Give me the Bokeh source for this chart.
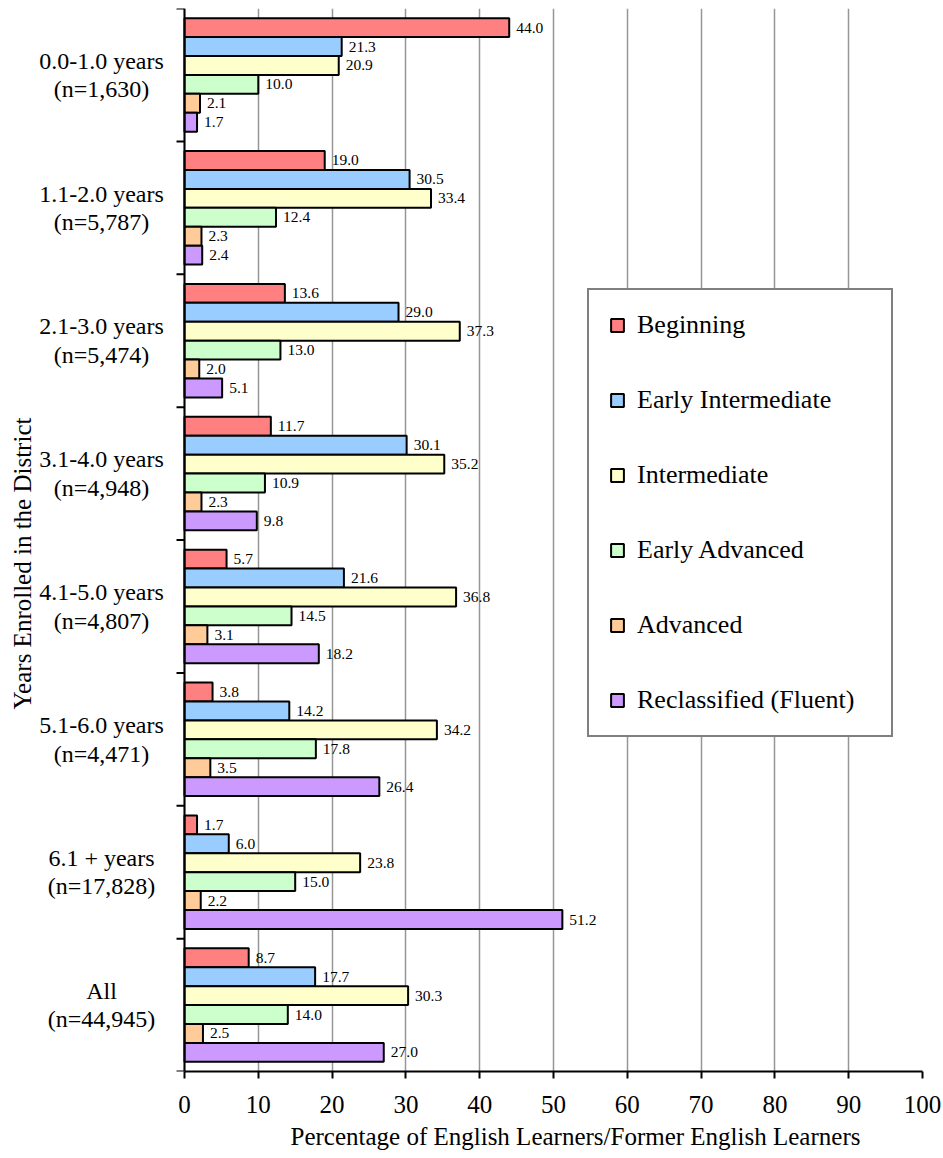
import math
from bokeh.plotting import figure
from bokeh.models import Range1d, FixedTicker, Span, ColumnDataSource, Title
from bokeh.core.properties import value
from bokeh.embed import file_html
from bokeh.resources import INLINE

# ---------------- data ----------------
groups = ["0.0-1.0 years", "1.1-2.0 years", "2.1-3.0 years", "3.1-4.0 years",
          "4.1-5.0 years", "5.1-6.0 years", "6.1 + years", "All"]
counts = ["(n=1,630)", "(n=5,787)", "(n=5,474)", "(n=4,948)",
          "(n=4,807)", "(n=4,471)", "(n=17,828)", "(n=44,945)"]
series_names = ["Beginning", "Early Intermediate", "Intermediate",
                "Early Advanced", "Advanced", "Reclassified (Fluent)"]
beginning = [44.0, 19.0, 13.6, 11.7, 5.7, 3.8, 1.7, 8.7]
early_intermediate = [21.3, 30.5, 29.0, 30.1, 21.6, 14.2, 6.0, 17.7]
intermediate = [20.9, 33.4, 37.3, 35.2, 36.8, 34.2, 23.8, 30.3]
early_advanced = [10.0, 12.4, 13.0, 10.9, 14.5, 17.8, 15.0, 14.0]
advanced = [2.1, 2.3, 2.0, 2.3, 3.1, 3.5, 2.2, 2.5]
reclassified = [1.7, 2.4, 5.1, 9.8, 18.2, 26.4, 51.2, 27.0]
x_ticks = [0, 10, 20, 30, 40, 50, 60, 70, 80, 90, 100]

series_values = [beginning, early_intermediate, intermediate,
                 early_advanced, advanced, reclassified]
colors = ["#FF8080", "#99CCFF", "#FFFFCC", "#CCFFCC", "#FFCC99", "#CC99FF"]

FONT = "Liberation Serif"
n_groups = len(groups)
bar_h = 0.1425

# layout (pixels)
W, H = 943, 1158
AXIS_PX = 184          # where x=0 sits, from the left of the frame
RIGHT_PAD = 21
TOP_PAD, BOTTOM_PAD = 8, 87
frame_w = W - RIGHT_PAD
frame_h = H - TOP_PAD - BOTTOM_PAD
px_per_unit = (frame_w - AXIS_PX) / 100.0
px_per_group = frame_h / n_groups


def px_to_x(px):
    return (px - AXIS_PX) / px_per_unit


def px_to_y(py):
    return n_groups - (py - TOP_PAD) / px_per_group


p = figure(width=W, height=H,
           x_range=Range1d(px_to_x(0), 100), y_range=Range1d(0, n_groups),
           output_backend="svg", toolbar_location=None,
           min_border_left=0, min_border_right=RIGHT_PAD,
           min_border_top=TOP_PAD, min_border_bottom=BOTTOM_PAD)
p.outline_line_color = None
p.background_fill_color = "white"
p.border_fill_color = "white"
p.yaxis.visible = False
p.ygrid.grid_line_color = None

p.xgrid.ticker = FixedTicker(ticks=x_ticks)
p.xgrid.grid_line_color = "#969696"
p.xgrid.grid_line_width = 1.5

for j, (name, vals, col) in enumerate(zip(series_names, series_values, colors)):
    ys = [(n_groups - 1 - gi) + 0.5 + (2.5 - j) * bar_h for gi in range(n_groups)]
    src = ColumnDataSource(dict(y=ys, v=vals, lbl=[f"{v:.1f}" for v in vals]))
    p.hbar(y="y", left=0, right="v", height=bar_h, source=src,
           fill_color=col, line_color="black", line_width=2, legend_label=name)
    p.text(x="v", y="y", text="lbl", source=src, x_offset=7,
           text_baseline="middle", text_align="left",
           text_font=value(FONT), text_font_size="15.5px", text_color="black")

# value axis (bottom)
p.xaxis.ticker = FixedTicker(ticks=x_ticks)
p.xaxis.bounds = (0, 100)
p.xaxis.axis_line_color = "black"
p.xaxis.axis_line_width = 2
p.xaxis.major_tick_line_color = "black"
p.xaxis.major_tick_line_width = 2
p.xaxis.major_tick_out = 7
p.xaxis.major_tick_in = 0
p.xaxis.minor_tick_line_color = None
p.xaxis.major_label_text_font = FONT
p.xaxis.major_label_text_font_size = "25px"
p.xaxis.major_label_text_color = "black"
p.xaxis.major_label_standoff = 17

# value axis title
p.add_layout(Title(text="Percentage of English Learners/Former English Learners",
                   align="left", offset=290, standoff=11,
                   text_font=FONT, text_font_size="25px", text_font_style="normal",
                   text_color="black"), "below")

# category axis (left): line at x=0 and outward ticks at group boundaries
p.add_layout(Span(location=0, dimension="height", line_color="black", line_width=2))
boundaries = list(range(n_groups + 1))
p.ray(x=[0] * len(boundaries), y=boundaries, length=8, length_units="screen",
      angle=math.pi, line_color="black", line_width=2)

# category labels
cat_src = ColumnDataSource(dict(
    x=[px_to_x(101)] * n_groups,
    y=[(n_groups - 1 - gi) + 0.5 for gi in range(n_groups)],
    t=[f"{g}\n{n}" for g, n in zip(groups, counts)]))
p.text(x="x", y="y", text="t", source=cat_src, text_align="center",
       text_baseline="middle", text_font=value(FONT), text_font_size="24px",
       text_color="black", text_line_height=1.1)

# category axis title
p.text(x=[px_to_x(22)], y=[px_to_y(563)], text=["Years Enrolled in the District"],
       angle=math.pi / 2, text_align="center", text_baseline="middle",
       text_font=value(FONT), text_font_size="25px", text_color="black")

# legend
lg = p.legend[0]
lg.location = (587, 334)
lg.border_line_color = "black"
lg.border_line_width = 2
lg.background_fill_color = "white"
lg.background_fill_alpha = 1
lg.label_text_font = FONT
lg.label_text_font_size = "26px"
lg.label_text_color = "black"
lg.glyph_width = 16
lg.glyph_height = 16
lg.label_standoff = 12
lg.label_width = 234
lg.padding = 20
lg.spacing = 45
lg.margin = 0

open("out.html", "w").write(file_html(p, INLINE))
